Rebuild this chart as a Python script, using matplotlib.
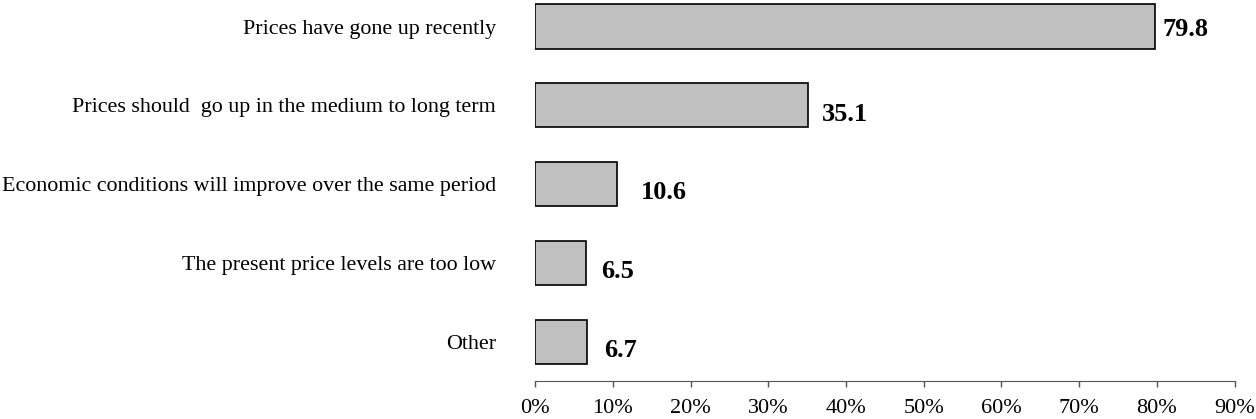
import matplotlib
matplotlib.use("Agg")
import matplotlib.pyplot as plt
from matplotlib.ticker import FuncFormatter

# reasons, top to bottom
reasons = [
    "Prices have gone up recently",
    "Prices should  go up in the medium to long term",
    "Economic conditions will improve over the same period",
    "The present price levels are too low",
    "Other",
]
shares = [79.8, 35.1, 10.6, 6.5, 6.7]

# label offsets in points (x, y) as placed in the original
label_dx = [5, 10, 17, 11, 12]
label_dy = [-7, -11, -11, -11, -11]

plt.rcParams["font.family"] = ["Liberation Serif", "DejaVu Serif"]

fig = plt.figure(figsize=(12.56, 4.19), dpi=100)
ax = fig.add_axes([0.426, 0.0907, 0.557, 0.940])

ypos = list(range(len(reasons)))[::-1]
ax.barh(ypos, shares, height=0.56, color="#c0c0c0", edgecolor="black", linewidth=1.2)

for y, v, dx, dy in zip(ypos, shares, label_dx, label_dy):
    ax.annotate(f"{v:.1f}", (v, y), xytext=(dx, dy), textcoords="offset points",
                ha="left", va="baseline", fontsize=19, fontweight="bold")

ax.set_xlim(0, 90)
ax.set_ylim(-0.5, len(reasons) - 0.5)
ax.set_xticks(range(0, 91, 10))
ax.xaxis.set_major_formatter(FuncFormatter(lambda x, p: f"{x:.0f}%"))
ax.set_yticks(ypos)
ax.set_yticklabels(reasons, fontsize=15.8)
ax.tick_params(axis="y", length=0, pad=28)
ax.tick_params(axis="x", length=4.5, width=1, color="#555555", labelsize=16, pad=8.5)

for s in ["top", "right", "left"]:
    ax.spines[s].set_visible(False)
ax.spines["bottom"].set_color("#555555")

fig.savefig("out.png", dpi=100)
